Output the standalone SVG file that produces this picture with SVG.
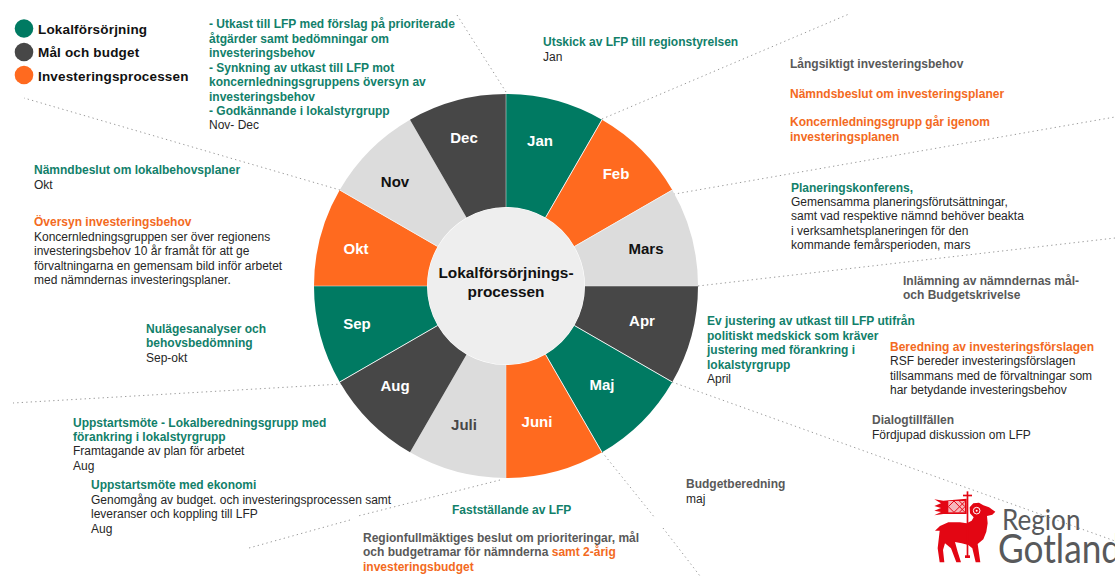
<svg xmlns="http://www.w3.org/2000/svg" width="1115" height="576" viewBox="0 0 1115 576">
<style>
text{font-family:"Liberation Sans",Arial,sans-serif;font-size:12px}
.b{font-weight:bold}
.t{fill:#12806A;font-weight:bold}
.o{fill:#F36A22;font-weight:bold}
.g{fill:#595959;font-weight:bold}
.k{fill:#262626}
.leg{font-size:13.500px;font-weight:bold;fill:#111;letter-spacing:.17px}
.m{font-size:15px;font-weight:bold;text-anchor:middle}
.w{fill:#fff}
.green{fill:#007A62}.orange{fill:#FF6A1F}.light{fill:#DCDCDC}.dark{fill:#474747}
.dot{fill:none;stroke:#999;stroke-width:1;stroke-dasharray:1.3 3.2}
.seam{stroke:#F2F2F2;stroke-width:1;fill:none}
.thin{stroke:#EEE;stroke-width:.5;fill:none}
</style>
<rect width="1115" height="576" fill="#fff"/>
<g id="connectors">
<path class="dot" d="M457 15L506 92"/>
<path class="dot" d="M602 119L849 14"/>
<path class="dot" d="M669 195L1115 117"/>
<path class="dot" d="M698 286L1115 238"/>
<path class="dot" d="M672 382L1115 541"/>
<path class="dot" d="M602 452L655 518M663 528L700 576"/>
<path class="dot" d="M500 480L358 516M350 520L249 548"/>
<path class="dot" d="M342 384L13 403"/>
<path class="dot" d="M340 190L24 98"/>
</g>
<g id="legend">
<circle class="green" cx="24" cy="28.500" r="9.300"/><text class="leg" x="38" y="34">Lokalförsörjning</text>
<circle class="dark" cx="24" cy="52" r="9.300"/><text class="leg" x="38" y="57">Mål och budget</text>
<circle class="orange" cx="24" cy="75" r="9.300"/><text class="leg" x="38" y="81">Investeringsprocessen</text>
</g>
<g id="jan"><path class="green" d="M506 94A192 192 0 0 1 602 119.700L545.500 217.600A79 79 0 0 0 506 207Z"/><text class="m w" x="540" y="146">Jan</text></g>
<g id="feb"><path class="orange" d="M602 119.700A192 192 0 0 1 672.300 190L574.400 246.500A79 79 0 0 0 545.500 217.600Z"/><text class="m w" x="616" y="179">Feb</text></g>
<g id="mars"><path class="light" d="M672.300 190A192 192 0 0 1 698 286L585 286A79 79 0 0 0 574.400 246.500Z"/><text class="m" fill="#111" x="646" y="254">Mars</text></g>
<g id="apr"><path class="dark" d="M698 286A192 192 0 0 1 672.300 382L574.400 325.500A79 79 0 0 0 585 286Z"/><text class="m w" x="642" y="326">Apr</text></g>
<g id="maj"><path class="green" d="M672.300 382A192 192 0 0 1 602 452.300L545.500 354.400A79 79 0 0 0 574.400 325.500Z"/><text class="m w" x="602" y="390">Maj</text></g>
<g id="juni"><path class="orange" d="M602 452.300A192 192 0 0 1 506 478L506 365A79 79 0 0 0 545.500 354.400Z"/><text class="m w" x="537" y="427">Juni</text></g>
<g id="juli"><path class="light" d="M506 478A192 192 0 0 1 410 452.300L466.500 354.400A79 79 0 0 0 506 365Z"/><text class="m" fill="#474747" x="464" y="430">Juli</text></g>
<g id="aug"><path class="dark" d="M410 452.300A192 192 0 0 1 339.700 382L437.600 325.500A79 79 0 0 0 466.500 354.400Z"/><text class="m w" x="395" y="391">Aug</text></g>
<g id="sep"><path class="green" d="M339.700 382A192 192 0 0 1 314 286L427 286A79 79 0 0 0 437.600 325.500Z"/><text class="m w" x="357" y="329">Sep</text></g>
<g id="okt"><path class="orange" d="M314 286A192 192 0 0 1 339.700 190L437.600 246.500A79 79 0 0 0 427 286Z"/><text class="m w" x="356" y="254">Okt</text></g>
<g id="nov"><path class="light" d="M339.700 190A192 192 0 0 1 410 119.700L466.500 217.600A79 79 0 0 0 437.600 246.500Z"/><text class="m" fill="#111" x="395" y="187">Nov</text></g>
<g id="dec"><path class="dark" d="M410 119.700A192 192 0 0 1 506 94L506 207A79 79 0 0 0 466.500 217.600Z"/><text class="m w" x="464" y="143">Dec</text></g>
<g id="seams">
<path class="seam" d="M602 119.700L545.500 217.600M672.300 190L574.400 246.500M672.300 382L574.400 325.500M602 452.300L545.500 354.400M339.700 382L437.600 325.500M339.700 190L437.600 246.500"/>
<path class="thin" d="M506 94V207M506 365V478M314 286H427M585 286H698"/>
</g>
<g id="center"><circle cx="506" cy="286" r="78.500" fill="#EEEEEE"/>
<text class="b" fill="#111" style="font-size:15.400px;text-anchor:middle" x="506" y="278">Lokalförsörjnings-</text>
<text class="b" fill="#111" style="font-size:15.400px;text-anchor:middle" x="506" y="297">processen</text></g>
<g id="note-dec">
<text class="t" x="209" y="28">- Utkast till LFP med förslag på prioriterade</text>
<text class="t" x="209" y="43">åtgärder samt bedömningar om</text>
<text class="t" x="209" y="57">investeringsbehov</text>
<text class="t" x="209" y="72">- Synkning av utkast till LFP mot</text>
<text class="t" x="209" y="86">koncernledningsgruppens översyn av</text>
<text class="t" x="209" y="101">investeringsbehov</text>
<text class="t" x="209" y="115">- Godkännande i lokalstyrgrupp</text>
<text class="k" x="209" y="129">Nov- Dec</text>
</g>
<g id="note-jan"><text class="t" x="543" y="46">Utskick av LFP till regionstyrelsen</text><text class="k" x="543" y="61">Jan</text></g>
<g id="note-feb">
<text class="g" x="790" y="68">Långsiktigt investeringsbehov</text>
<text class="o" x="790" y="98">Nämndsbeslut om investeringsplaner</text>
<text class="o" x="790" y="126">Koncernledningsgrupp går igenom</text>
<text class="o" x="790" y="141">investeringsplanen</text>
</g>
<g id="note-mars">
<text class="t" x="791" y="192">Planeringskonferens,</text>
<text class="k" x="791" y="206">Gemensamma planeringsförutsättningar,</text>
<text class="k" x="791" y="220">samt vad respektive nämnd behöver beakta</text>
<text class="k" x="791" y="235">i verksamhetsplaneringen för den</text>
<text class="k" x="791" y="249">kommande femårsperioden, mars</text>
</g>
<g id="note-apr">
<text class="g" x="903" y="285">Inlämning av nämndernas mål-</text>
<text class="g" x="903" y="299">och Budgetskrivelse</text>
<text class="t" x="707" y="325">Ev justering av utkast till LFP utifrån</text>
<text class="t" x="707" y="340">politiskt medskick som kräver</text>
<text class="t" x="707" y="354">justering med förankring i</text>
<text class="t" x="707" y="369">lokalstyrgrupp</text>
<text class="k" x="707" y="383">April</text>
<text class="o" x="890" y="351">Beredning av investeringsförslagen</text>
<text class="k" x="890" y="365">RSF bereder investeringsförslagen</text>
<text class="k" x="890" y="380">tillsammans med de förvaltningar som</text>
<text class="k" x="890" y="394">har betydande investeringsbehov</text>
<text class="g" x="872" y="424">Dialogtillfällen</text>
<text class="k" x="872" y="439">Fördjupad diskussion om LFP</text>
</g>
<g id="note-maj"><text class="g" x="686" y="488">Budgetberedning</text><text class="k" x="686" y="503">maj</text></g>
<g id="note-juni">
<text class="t" x="452" y="514">Fastställande av LFP</text>
<text class="g" x="363" y="542">Regionfullmäktiges beslut om prioriteringar, mål</text>
<text class="g" x="363" y="556">och budgetramar för nämnderna <tspan class="o">samt 2-årig</tspan></text>
<text class="o" x="363" y="571">investeringsbudget</text>
</g>
<g id="note-aug">
<text class="t" x="73" y="427">Uppstartsmöte - Lokalberedningsgrupp med</text>
<text class="t" x="73" y="441">förankring i lokalstyrgrupp</text>
<text class="k" x="73" y="455">Framtagande av plan för arbetet</text>
<text class="k" x="73" y="470">Aug</text>
<text class="t" x="91" y="489">Uppstartsmöte med ekonomi</text>
<text class="k" x="91" y="504">Genomgång av budget. och investeringsprocessen samt</text>
<text class="k" x="91" y="518">leveranser och koppling till LFP</text>
<text class="k" x="91" y="533">Aug</text>
</g>
<g id="note-sep">
<text class="t" x="146" y="333">Nulägesanalyser och</text>
<text class="t" x="146" y="347">behovsbedömning</text>
<text class="k" x="146" y="362">Sep-okt</text>
</g>
<g id="note-okt">
<text class="t" x="34" y="174">Nämndbeslut om lokalbehovsplaner</text>
<text class="k" x="34" y="189">Okt</text>
<text class="o" x="34" y="226">Översyn investeringsbehov</text>
<text class="k" x="34" y="241">Koncernledningsgruppen ser över regionens</text>
<text class="k" x="34" y="255">investeringsbehov 10 år framåt för att ge</text>
<text class="k" x="34" y="270">förvaltningarna en gemensam bild inför arbetet</text>
<text class="k" x="34" y="284">med nämndernas investeringsplaner.</text>
</g>
<g id="logo">
<g transform="translate(915 480) scale(.3333)" fill="#E30613">
<path d="M60 152L75 138L100 127L135 127L155 130L170 122L176 112L165 100L164 82L175 70L192 68L205 76L222 82L241 95L232 104L216 108L218 130L214 155L205 178L188 192L196 247L182 247L172 205L160 195L140 190L120 186L128 215L138 247L124 247L108 205L90 190L84 210L88 247L74 247L68 205L72 170L74 152Z"/>
<rect x="155" y="34" width="5" height="200"/><rect x="144" y="44" width="27" height="5"/><rect x="150" y="226" width="15" height="8"/>
<path d="M58 58L85 62L155 56L155 102L85 102L58 106L78 96L58 92L78 84L58 78L78 70Z"/>
<rect x="100" y="63" width="50" height="34" fill="#F6B7BB"/>
<path d="M100 80L117 63M117 97L150 64M133 97L150 80M100 80L117 97M117 63L150 97M133 63L150 80" stroke="#E30613" stroke-width="3" fill="none"/>
<circle cx="185" cy="92" r="10" fill="none" stroke="#fff" stroke-width="3"/>
<circle cx="185" cy="92" r="3" fill="#fff"/>
</g>
<text transform="translate(1002 530) scale(.9 1)" style="font-family:Lato,sans-serif;font-size:29px" fill="#58595B">Region</text>
<text transform="translate(998 563) scale(.86 1)" style="font-family:Lato,sans-serif;font-size:41px" fill="#58595B">Gotland</text>
</g>
</svg>
